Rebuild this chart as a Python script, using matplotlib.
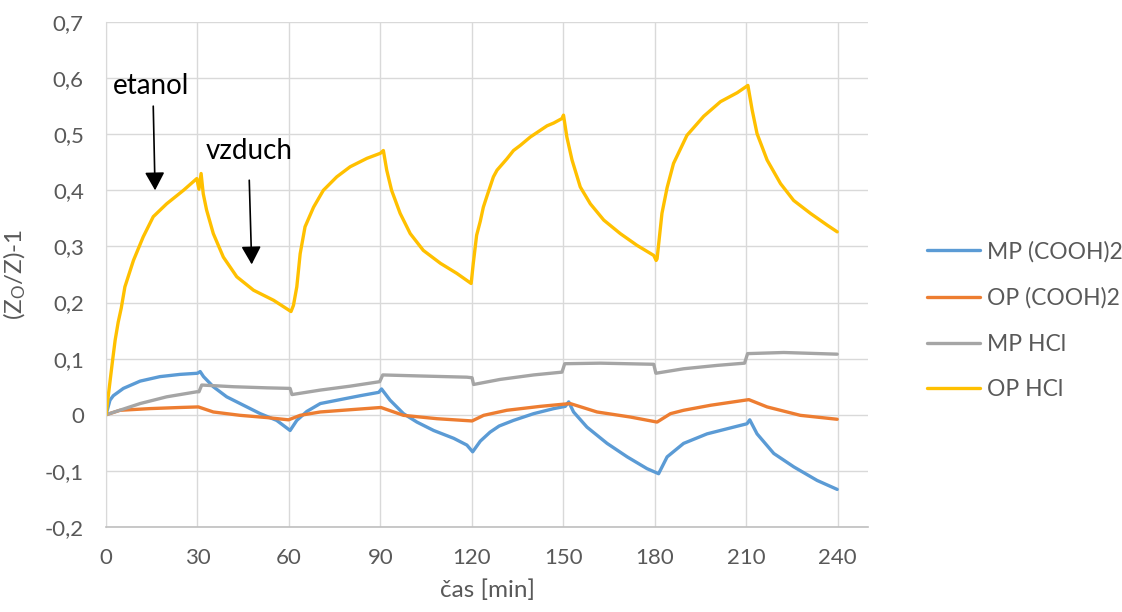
import matplotlib
matplotlib.use("Agg")
import matplotlib.pyplot as plt
from matplotlib.ticker import FuncFormatter

# ---------------- data ----------------
labels = ["MP (COOH)2", "OP (COOH)2", "MP HCl", "OP HCl"]

t_mp_cooh = [0, 1.3, 2.4, 5.7, 11.2, 17.7, 24.3, 30, 30.9, 32, 35.2, 39.6, 44, 50.6, 56, 60.4,
             62.6, 65.9, 70.3, 76.8, 83.4, 89.5, 90.4, 93.2, 97.6, 102, 107.5, 114.1, 118.4, 120.3,
             122.8, 126, 129, 133.7, 140.3, 146.9, 150.7, 151.8, 153.4, 157.8, 164.4, 171, 177.5, 181.3,
             184.1, 189.5, 197.2, 205.9, 210.3, 211.2, 213.6, 219.1, 225.7, 233.3, 239.9]
y_mp_cooh = [0, 0.026, 0.034, 0.047, 0.060, 0.068, 0.072, 0.074, 0.077, 0.068, 0.050, 0.032, 0.020, 0.002, -0.010, -0.028,
             -0.010, 0.006, 0.020, 0.027, 0.034, 0.040, 0.046, 0.026, 0.002, -0.013, -0.028, -0.042, -0.054, -0.066,
             -0.047, -0.031, -0.020, -0.010, 0.002, 0.011, 0.015, 0.023, 0.005, -0.022, -0.051, -0.075, -0.096, -0.105,
             -0.075, -0.051, -0.034, -0.022, -0.016, -0.009, -0.034, -0.069, -0.093, -0.117, -0.133]

t_op_cooh = [0, 4.6, 14.4, 24.3, 30.3, 35.2, 44, 52.8, 59.9, 63.7, 70.3, 80.1, 90.2, 97.6, 108.6, 120.1,
             123.9, 131.5, 142.5, 152.3, 161.1, 172, 180.8, 185.2, 189.5, 198.4, 210.9, 216.9, 227.8, 239.9]
y_op_cooh = [0, 0.008, 0.011, 0.013, 0.014, 0.005, -0.001, -0.005, -0.009, -0.001, 0.005, 0.009, 0.013, -0.001, -0.007, -0.011,
             -0.001, 0.008, 0.015, 0.020, 0.005, -0.004, -0.013, 0.002, 0.008, 0.017, 0.027, 0.014, -0.001, -0.008]

t_mp_hcl = [0, 11.2, 19.9, 29.8, 30.5, 31.4, 41.8, 52.8, 60.4, 61, 70.3, 80.1, 89.8, 90.8, 104.1, 118.4,
            120.1, 120.6, 129.3, 140.3, 149.6, 150.5, 162.2, 179.7, 180.4, 189.5, 200.5, 209.5, 210.5, 222.4, 239.9]
y_mp_hcl = [0, 0.020, 0.032, 0.041, 0.041, 0.053, 0.050, 0.048, 0.047, 0.036, 0.044, 0.051, 0.059, 0.071, 0.069, 0.067,
            0.066, 0.054, 0.063, 0.071, 0.076, 0.091, 0.092, 0.090, 0.074, 0.082, 0.088, 0.092, 0.109, 0.111, 0.108]

t_op_hcl = [0, 1, 2, 3, 4, 5, 6.2, 9, 12.2, 15.5, 19.9, 25.4, 29.8, 30.5, 31.2, 31.9, 33, 35.2, 38.5, 42.9, 48.4, 55, 60.7,
            61.5, 62.6, 63.7, 65.3, 68.1, 71.3, 75.7, 80.1, 85.6, 90, 91, 92.1, 93.7, 96.5, 99.8, 104.1, 109.7, 115.1, 119.8,
            120.5, 121.6, 122.8, 123.8, 125, 127.1, 128.3, 131.5, 133.7, 135.9, 139.2, 141.4, 144.7, 146.9, 149.6, 150.1,
            151.2, 152.9, 155.6, 158.9, 163.3, 168.7, 174.2, 179.7, 180.5,
            180.8, 182.4, 184.1, 186.2, 190.6, 196.1, 201.6, 207.1, 210.6,
            212, 213.6, 216.9, 221.3, 225.6, 231.1, 236.6, 239.9]
y_op_hcl = [0, 0.045, 0.09, 0.133, 0.165, 0.19, 0.228, 0.275, 0.317, 0.353, 0.376, 0.400, 0.421, 0.402, 0.430, 0.394, 0.365,
            0.323, 0.281, 0.246, 0.222, 0.204, 0.184,
            0.195, 0.228, 0.287, 0.335, 0.370, 0.400, 0.424, 0.442, 0.457, 0.466, 0.471, 0.436, 0.400, 0.359, 0.323, 0.293,
            0.270, 0.252, 0.234,
            0.27, 0.32, 0.345, 0.37, 0.39, 0.424, 0.436, 0.456, 0.471, 0.48, 0.495, 0.503, 0.515, 0.52, 0.528, 0.534,
            0.495, 0.454, 0.406, 0.376, 0.347, 0.323, 0.302, 0.284, 0.275,
            0.278, 0.359, 0.405, 0.448, 0.498, 0.532, 0.558, 0.574, 0.587,
            0.543, 0.501, 0.454, 0.412, 0.382, 0.359, 0.338, 0.326]

x_ticks = [0, 30, 60, 90, 120, 150, 180, 210, 240]
y_ticks = [-0.2, -0.1, 0, 0.1, 0.2, 0.3, 0.4, 0.5, 0.6, 0.7]

# annotation anchors (data coordinates)
etanol_text = (14.9, 0.571)
etanol_arrow = ((15.5, 0.550), (16.1, 0.400))
vzduch_text = (47.0, 0.455)
vzduch_arrow = ((47.0, 0.418), (47.8, 0.268))

# ---------------- style ----------------
colors = ["#5B9BD5", "#ED7D31", "#A5A5A5", "#FFC000"]
text_gray = "#595959"
grid_gray = "#D9D9D9"
plt.rcParams["font.family"] = ["Lato", "DejaVu Sans"]
plt.rcParams["mathtext.default"] = "regular"

fig = plt.figure(figsize=(11.22, 6.12), dpi=100)
ax = fig.add_axes([106 / 1122, 1 - 527 / 612, (868 - 106) / 1122, (527 - 22) / 612])

series = [(t_mp_cooh, y_mp_cooh), (t_op_cooh, y_op_cooh), (t_mp_hcl, y_mp_hcl), (t_op_hcl, y_op_hcl)]
for (t, y), c, lab in zip(series, colors, labels):
    ax.plot(t, y, color=c, lw=2.4, label=lab, solid_joinstyle="round", solid_capstyle="round")

ax.set_xlim(0, 250)
ax.set_ylim(-0.2, 0.7)
ax.set_xticks(x_ticks)
ax.set_yticks(y_ticks)
ax.yaxis.set_major_formatter(FuncFormatter(lambda v, p: ("%g" % round(v, 2)).replace(".", ",")))
ax.grid(True, color=grid_gray, lw=1.0)
ax.set_axisbelow(True)
for s in ["top", "right"]:
    ax.spines[s].set_visible(False)
ax.spines["left"].set_color(grid_gray)
ax.spines["bottom"].set_color("#BFBFBF")
ax.spines["bottom"].set_linewidth(1.2)
ax.tick_params(axis="both", length=0, labelsize=16, labelcolor=text_gray)
ax.tick_params(axis="y", pad=16)
ax.tick_params(axis="x", pad=15)

ax.set_xlabel("čas [min]", fontsize=17.5, color=text_gray, labelpad=8)
ax.set_ylabel("(Z$_O$/Z)-1", fontsize=17.5, color=text_gray, labelpad=12)

ax.text(*etanol_text, "etanol", fontsize=20, color="black", ha="center", va="baseline")
ax.text(*vzduch_text, "vzduch", fontsize=20, color="black", ha="center", va="baseline")
arrowprops = dict(arrowstyle="-|>,head_length=0.55,head_width=0.3", color="black", lw=1.2,
                  mutation_scale=20, shrinkA=0, shrinkB=0)
ax.annotate("", xy=etanol_arrow[1], xytext=etanol_arrow[0], arrowprops=arrowprops)
ax.annotate("", xy=vzduch_arrow[1], xytext=vzduch_arrow[0], arrowprops=arrowprops)

leg = fig.legend(loc="upper left", bbox_to_anchor=(927 / 1122, 1 - 241 / 612), frameon=False,
                 fontsize=16.5, handlelength=2.3, handletextpad=0.3, labelspacing=1.08,
                 borderpad=0, borderaxespad=0)
for txt in leg.get_texts():
    txt.set_color(text_gray)

fig.savefig("out.png", dpi=100)
